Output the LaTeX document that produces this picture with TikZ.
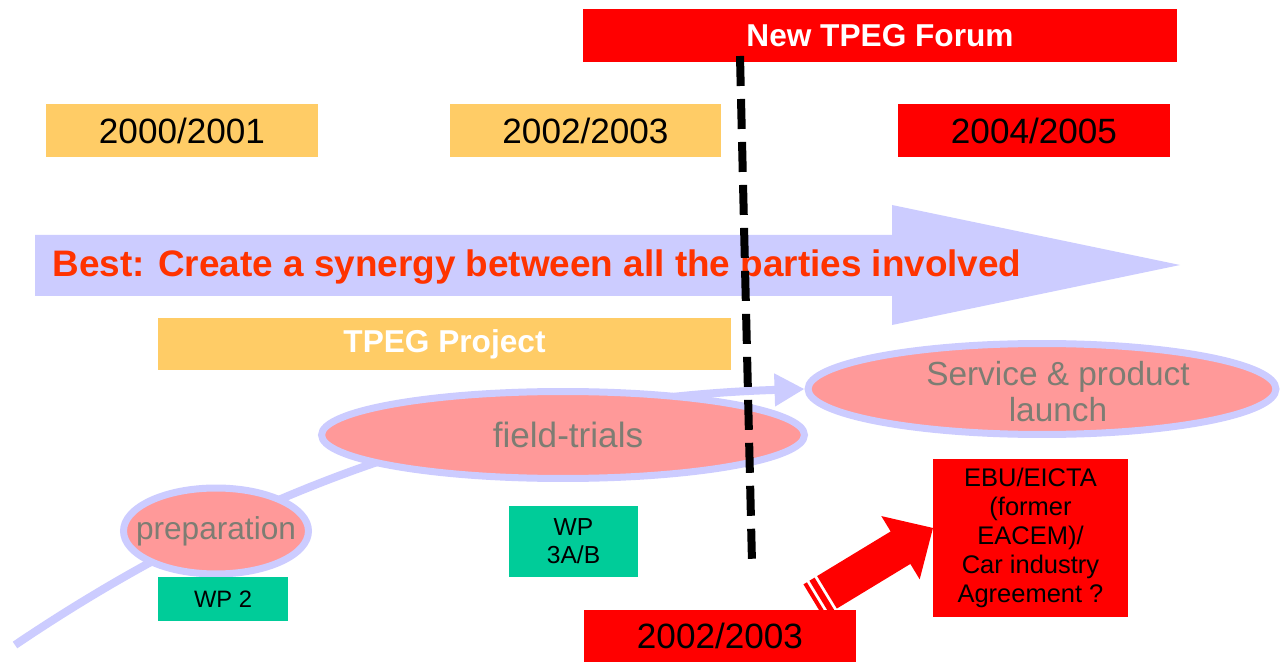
\documentclass[tikz,border=0pt]{standalone}
\usepackage{fontspec}
\setmainfont{Liberation Sans}
\usepackage{xcolor}
\usetikzlibrary{shapes.geometric, arrows.meta}

\definecolor{tpegred}{RGB}{255,0,0}
\definecolor{tpegyellow}{RGB}{255,204,102}
\definecolor{tpeglilac}{RGB}{204,204,255}
\definecolor{tpegpink}{RGB}{255,153,153}
\definecolor{tpeggreen}{RGB}{0,204,153}
\definecolor{tpegorange}{RGB}{255,51,0}
\definecolor{tpeggrey}{RGB}{125,125,115}

\begin{document}
\begin{tikzpicture}[x=0.02cm, y=-0.02cm,
    yearbox/.style={fill=tpegyellow, minimum width=5.44cm, minimum height=1.06cm, inner sep=0pt, font=\fontsize{20}{24}\selectfont},
    redbox/.style={yearbox, fill=tpegred},
    phase/.style={ellipse, draw=tpeglilac, line width=0.14cm, fill=tpegpink, inner sep=0pt, text=tpeggrey, align=center},
    wpbox/.style={fill=tpeggreen, inner sep=0pt, align=center, font=\fontsize{14}{16}\selectfont},
    timeline/.style={draw=tpeglilac, line width=0.16cm, -{Triangle[length=0.6cm, width=0.62cm]}},
  ]
      \path[use as bounding box, fill=white] (0,0) rectangle (1282,662);

      \node[redbox, minimum width=11.88cm, text=white, font=\bfseries\fontsize{18}{22}\selectfont] (forum) at (880,35.5) {New TPEG Forum};

      \node[yearbox] (y2000) at (182,130.5) {2000/2001};
      \node[yearbox] (y2002) at (585.5,130.5) {2002/2003};
      \node[redbox] (y2004) at (1034,130.5) {2004/2005};

      \fill[tpeglilac] (35,235) -- (892,235) -- (892,205) -- (1180,265) -- (892,325) -- (892,296) -- (35,296) -- cycle;
      \node[text=tpegorange, font=\bfseries\fontsize{21}{25}\selectfont] (best) at (537,267) {Best: Create a synergy between all the parties involved};

      \node[yearbox, minimum width=11.46cm, minimum height=1.04cm, text=white, font=\bfseries\fontsize{18}{22}\selectfont] (project) at (444.5,344) {TPEG Project};

      \node[phase, minimum width=9.36cm, minimum height=1.82cm, inner ysep=-0.45cm, font=\fontsize{19}{20.5}\selectfont] (service) at (1042,389)
        {\hspace*{0.64cm}\begin{tabular}{@{}c@{}}\rule{0pt}{0.79cm}Service \& product\\launch\end{tabular}};

      \coordinate (tlstart) at (15,645);
      \draw[timeline] (tlstart) .. controls (200,520) and (450,400) .. (service.west);

      \node[phase, minimum width=9.66cm, minimum height=1.74cm, font=\fontsize{20}{24}\selectfont] (field) at (563,435) {\hspace*{0.2cm}field-trials};
      \node[phase, minimum width=3.70cm, minimum height=1.72cm, inner xsep=-0.5cm, font=\fontsize{18}{22}\selectfont] (prep) at (216,531) {preparation};

      \node[wpbox, minimum width=2.6cm, minimum height=0.88cm, font=\fontsize{13.5}{16}\selectfont] (wp2) at (223,599) {WP 2};
      \node[wpbox, minimum width=2.58cm, minimum height=1.42cm] (wp3) at (573.5,541.5) {WP\\3A/B};

      \coordinate (arrbase) at (813.3,600.6);
      \begin{scope}[shift={(arrbase)}, rotate=31.25]
        \fill[tpegred] (0,-19) rectangle (4,19);
        \fill[tpegred] (7,-19) rectangle (13,19);
        \fill[tpegred] (16,-19) -- (102,-19) -- (102,-37) -- (140,0) -- (102,37) -- (102,19) -- (16,19) -- cycle;
      \end{scope}

      \node[redbox, minimum width=3.9cm, minimum height=3.16cm, align=center, font=\fontsize{14.5}{16.6}\selectfont] (ebu) at (1030.5,538) {EBU/EICTA\\(former\\EACEM)/\\Car industry\\Agreement ?};
      \node[redbox] (ylow) at (720,636) {2002/2003};

      \coordinate (dtop) at (740,56);
      \coordinate (dbot) at (752,563);
      \draw[line width=0.16cm, dash pattern=on 0.6cm off 0.26cm] (dtop) -- (dbot);
    \end{tikzpicture}
\end{document}
